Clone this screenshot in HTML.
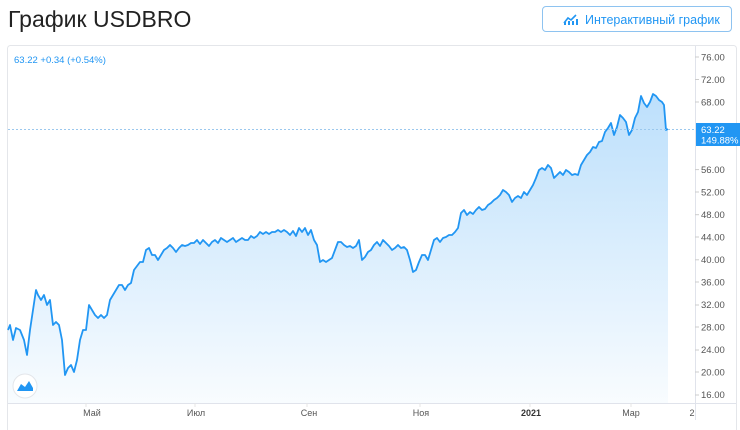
<!DOCTYPE html>
<html><head><meta charset="utf-8"><style>
body{margin:0;width:740px;height:430px;background:#fff;font-family:"Liberation Sans",sans-serif;overflow:hidden;position:relative}
.t{position:absolute;left:8px;top:6px;font-size:23px;color:#222}
.btn{position:absolute;left:542px;top:6px;width:190px;height:26px;border:1px solid #8ec3f0;border-radius:4px;color:#2196f3;font-size:12.5px;line-height:26px;box-sizing:border-box;padding-left:42px}
</style></head><body>
<div class="t">График USDBRO</div>
<div class="btn">Интерактивный график</div>
<svg style="position:absolute;left:563px;top:13px" width="16" height="12"><path d="M1 10 L5 5 L8 7 L13 2" stroke="#2196f3" stroke-width="1.6" fill="none"/><rect x="1" y="9" width="2" height="3" fill="#2196f3"/><rect x="5" y="8" width="2" height="4" fill="#2196f3"/><rect x="9" y="8" width="2" height="4" fill="#2196f3"/><rect x="13" y="6" width="2" height="6" fill="#2196f3"/></svg>
<svg width="740" height="430" style="position:absolute;left:0;top:45px;top:0">
<defs><linearGradient id="g" x1="0" y1="0" x2="0" y2="1"><stop offset="0" stop-color="#2196f3" stop-opacity="0.3"/><stop offset="1" stop-color="#2196f3" stop-opacity="0.03"/></linearGradient></defs>
<rect x="7.5" y="45.5" width="729" height="400" rx="3" fill="none" stroke="#e4e6ea"/>
<line x1="695.5" y1="46" x2="695.5" y2="420" stroke="#e0e3eb"/>
<line x1="8" y1="403.5" x2="736" y2="403.5" stroke="#e0e3eb"/>
<polygon fill="url(#g)" points="8,403 8,330 10,325 13,340 16,328 20,330 24,340 27,355 30,330 33,310 36,290 38,295 41,300 44,295 47,305 50,300 53,325 56,322 59,325 62,340 65,375 68,368 71,365 74,372 77,360 80,340 83,330 86,330 89,305 92,310 95,315 98,318 101,315 104,318 107,315 110,300 113,295 116,290 119,285 122,285 125,290 128,285 131,283 134,270 137,266 140,262 143,262 146,250 149,248 152,255 155,255 158,260 161,255 164,250 167,248 170,245 173,248 176,252 179,248 182,245 185,246 188,245 191,243 194,243 197,240 200,244 203,240 206,243 209,246 212,242 215,240 218,243 221,238 224,240 227,242 230,240 233,238 236,242 239,240 242,238 245,240 248,240 251,236 254,238 257,236 260,232 263,234 266,232 269,234 272,232 275,232 278,230 281,232 284,230 287,232 290,235 293,231 296,236 299,228 302,232 305,228 308,235 311,230 314,240 317,245 320,262 323,260 326,262 329,260 332,258 335,250 338,242 341,242 344,245 347,247 350,246 353,248 356,246 359,240 362,260 365,257 368,252 371,250 374,245 377,242 380,246 383,240 386,243 389,246 392,250 395,248 398,245 401,248 404,247 407,250 410,260 413,272 416,270 419,262 422,255 425,255 428,260 431,250 434,240 437,238 440,242 443,238 446,237 449,235 452,235 455,232 458,228 461,213 464,210 467,215 470,212 473,214 476,210 479,207 482,210 485,209 488,205 491,203 494,200 497,198 500,195 503,190 506,192 509,195 512,202 515,198 518,196 521,198 524,192 527,195 530,190 533,185 536,178 539,170 542,168 545,170 548,165 551,168 554,178 557,175 560,172 563,175 566,170 569,172 572,175 575,174 578,175 581,165 584,160 587,155 590,152 593,147 596,148 599,142 602,141 605,132 608,128 611,123 614,135 617,127 620,115 623,118 626,122 629,135 632,130 635,118 638,112 641,96 644,103 647,107 650,102 653,94 656,96 659,100 662,102 664,105 666,130 668,129 668,403"/>
<polyline fill="none" stroke="#2196f3" stroke-width="1.8" stroke-linejoin="round" points="8,330 10,325 13,340 16,328 20,330 24,340 27,355 30,330 33,310 36,290 38,295 41,300 44,295 47,305 50,300 53,325 56,322 59,325 62,340 65,375 68,368 71,365 74,372 77,360 80,340 83,330 86,330 89,305 92,310 95,315 98,318 101,315 104,318 107,315 110,300 113,295 116,290 119,285 122,285 125,290 128,285 131,283 134,270 137,266 140,262 143,262 146,250 149,248 152,255 155,255 158,260 161,255 164,250 167,248 170,245 173,248 176,252 179,248 182,245 185,246 188,245 191,243 194,243 197,240 200,244 203,240 206,243 209,246 212,242 215,240 218,243 221,238 224,240 227,242 230,240 233,238 236,242 239,240 242,238 245,240 248,240 251,236 254,238 257,236 260,232 263,234 266,232 269,234 272,232 275,232 278,230 281,232 284,230 287,232 290,235 293,231 296,236 299,228 302,232 305,228 308,235 311,230 314,240 317,245 320,262 323,260 326,262 329,260 332,258 335,250 338,242 341,242 344,245 347,247 350,246 353,248 356,246 359,240 362,260 365,257 368,252 371,250 374,245 377,242 380,246 383,240 386,243 389,246 392,250 395,248 398,245 401,248 404,247 407,250 410,260 413,272 416,270 419,262 422,255 425,255 428,260 431,250 434,240 437,238 440,242 443,238 446,237 449,235 452,235 455,232 458,228 461,213 464,210 467,215 470,212 473,214 476,210 479,207 482,210 485,209 488,205 491,203 494,200 497,198 500,195 503,190 506,192 509,195 512,202 515,198 518,196 521,198 524,192 527,195 530,190 533,185 536,178 539,170 542,168 545,170 548,165 551,168 554,178 557,175 560,172 563,175 566,170 569,172 572,175 575,174 578,175 581,165 584,160 587,155 590,152 593,147 596,148 599,142 602,141 605,132 608,128 611,123 614,135 617,127 620,115 623,118 626,122 629,135 632,130 635,118 638,112 641,96 644,103 647,107 650,102 653,94 656,96 659,100 662,102 664,105 666,130 668,129"/>
<line x1="8" y1="129.5" x2="695" y2="129.5" stroke="#9bc8ee" stroke-dasharray="2,2"/>
<g font-size="9.5" fill="#555" text-anchor="start">
<text x="701" y="60.5">76.00</text><text x="701" y="83">72.00</text><text x="701" y="105.5">68.00</text>
<text x="701" y="173">56.00</text><text x="701" y="195.5">52.00</text><text x="701" y="218">48.00</text><text x="701" y="240.5">44.00</text><text x="701" y="263">40.00</text><text x="701" y="285.5">36.00</text><text x="701" y="308">32.00</text><text x="701" y="330.5">28.00</text><text x="701" y="353">24.00</text><text x="701" y="375.5">20.00</text><text x="701" y="398">16.00</text>
</g>
<g stroke="#ccc"><line x1="695" y1="57" x2="699" y2="57"/><line x1="695" y1="79.5" x2="699" y2="79.5"/><line x1="695" y1="102" x2="699" y2="102"/><line x1="695" y1="169.6" x2="699" y2="169.6"/><line x1="695" y1="192" x2="699" y2="192"/><line x1="695" y1="214.7" x2="699" y2="214.7"/><line x1="695" y1="237" x2="699" y2="237"/><line x1="695" y1="259.8" x2="699" y2="259.8"/><line x1="695" y1="282" x2="699" y2="282"/><line x1="695" y1="305" x2="699" y2="305"/><line x1="695" y1="327" x2="699" y2="327"/><line x1="695" y1="350" x2="699" y2="350"/><line x1="695" y1="372" x2="699" y2="372"/><line x1="695" y1="395" x2="699" y2="395"/></g>
<rect x="696" y="123" width="44" height="23" fill="#2196f3"/>
<text x="701" y="133" font-size="9.5" fill="#fff">63.22</text><text x="701" y="143.5" font-size="9.5" fill="#fff">149.88%</text>
<g font-size="9" fill="#555" text-anchor="middle">
<text x="92" y="416">Май</text><text x="196" y="416">Июл</text><text x="309" y="416">Сен</text><text x="421" y="416">Ноя</text><text x="531" y="416" font-weight="bold" fill="#333">2021</text><text x="631" y="416">Мар</text><text x="692" y="416">2</text>
</g>
<g stroke="#e6e6e6"><line x1="86" y1="403" x2="86" y2="407"/><line x1="195" y1="403" x2="195" y2="407"/><line x1="307" y1="403" x2="307" y2="407"/><line x1="420" y1="403" x2="420" y2="407"/><line x1="530" y1="403" x2="530" y2="407"/><line x1="631" y1="403" x2="631" y2="407"/></g>
<text x="14" y="63" font-size="9.5" fill="#2196f3">63.22  +0.34 (+0.54%)</text>
<circle cx="25" cy="386" r="12" fill="#fff" stroke="#e3e6ea"/>
<path d="M17 391 L21 384 L25 387 L29 381 L33 388 L33 391 Z" fill="#2196f3"/>
</svg>
</body></html>
